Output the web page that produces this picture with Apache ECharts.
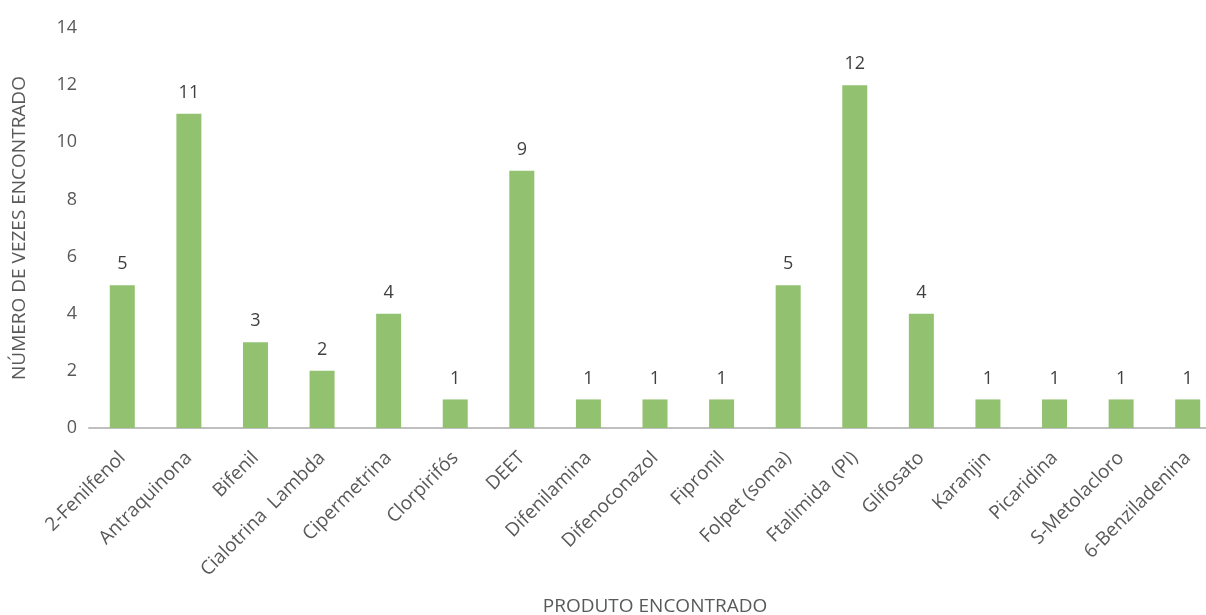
<!DOCTYPE html>
<html><head><meta charset="utf-8">
<script src="https://cdn.jsdelivr.net/npm/echarts@6/dist/echarts.min.js"></script>
<style>html,body{margin:0;padding:0;background:#fff}#c{width:1206px;height:615px}</style>
</head><body><div id="c"></div>
<script>
const categories = ["2-Fenilfenol","Antraquinona","Bifenil","Cialotrina  Lambda","Cipermetrina","Clorpirifós","DEET","Difenilamina","Difenoconazol","Fipronil","Folpet (soma)","Ftalimida  (PI)","Glifosato","Karanjin","Picaridina","S-Metolacloro","6-Benziladenina"];
const values = [5,11,3,2,4,1,9,1,1,1,5,12,4,1,1,1,1];
const yTicks = {min:0, max:14, interval:2};

const chart = echarts.init(document.getElementById('c'));
chart.setOption({
  animation:false,
  backgroundColor:'#ffffff',
  grid:{left:89, width:1132, top:28, bottom:187, outerBoundsMode:'none', containLabel:false},
  xAxis:{
    type:'category', data:categories,
    axisLine:{lineStyle:{color:'#bfbfbf', width:2}},
    axisTick:{show:false},
    axisLabel:{rotate:45, interval:0, color:'#595959', fontSize:19, fontFamily:'Open Sans', margin:27},
    name:'PRODUTO ENCONTRADO', nameLocation:'middle', nameGap:169,
    nameTextStyle:{color:'#595959', fontSize:19, fontFamily:'Open Sans'}
  },
  yAxis:{
    type:'value', min:yTicks.min, max:yTicks.max, interval:yTicks.interval,
    splitLine:{show:false}, axisLine:{show:false}, axisTick:{show:false},
    axisLabel:{color:'#595959', fontSize:18, fontFamily:'Open Sans', margin:12},
    name:'NÚMERO DE VEZES ENCONTRADO', nameLocation:'middle', nameGap:60,
    nameTextStyle:{color:'#595959', fontSize:19, fontFamily:'Open Sans'}
  },
  series:[{
    type:'bar', data:values, barWidth:25,
    itemStyle:{color:'#92c16f'},
    label:{show:true, position:'top', distance:12, color:'#404040', fontSize:18, fontFamily:'Open Sans'}
  }]
});
</script></body></html>
